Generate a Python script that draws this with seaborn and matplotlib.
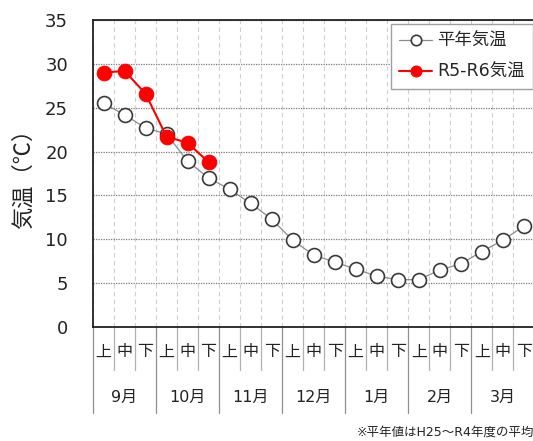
import numpy as np
import pandas as pd
import matplotlib
matplotlib.use('Agg')
import matplotlib.pyplot as plt
import matplotlib.transforms as mtransforms
import seaborn as sns

# chart values
months = ['9月', '10月', '11月', '12月', '1月', '2月', '3月']
periods = ['上', '中', '下']
normal_temp = [25.5, 24.2, 22.7, 22.0, 18.9, 17.0, 15.7, 14.1, 12.3, 9.9, 8.2,
               7.4, 6.6, 5.8, 5.4, 5.4, 6.5, 7.2, 8.6, 9.9, 11.5]
recent_temp = [29.0, 29.2, 26.6, 21.7, 21.0, 18.8]
y_ticks = [0, 5, 10, 15, 20, 25, 30, 35]

sns.set_theme(style='white')
plt.rcParams['font.family'] = ['DejaVu Sans', 'Noto Sans CJK JP']

n = len(months) * len(periods)
df_normal = pd.DataFrame({'pos': np.arange(n), 'temp': normal_temp})
df_recent = pd.DataFrame({'pos': np.arange(len(recent_temp)), 'temp': recent_temp})

fig = plt.figure(figsize=(5.33, 4.41), dpi=100)
ax = fig.add_axes([0.1745, 0.2585, 0.828, 0.6961])

# grid
ax.set_xticks(np.arange(-0.5, n, 1), minor=True)
ax.grid(which='minor', axis='x', color='#cfcfcf', linestyle=(0, (4, 3)), linewidth=0.8)
ax.set_yticks(y_ticks)
ax.grid(which='major', axis='y', color='#7a7a7a', linestyle=(0, (1, 1)), linewidth=0.9)
ax.set_axisbelow(True)

sns.lineplot(data=df_normal, x='pos', y='temp', ax=ax, color='#8c8c8c', linewidth=0.9,
             marker='o', markersize=10, markerfacecolor='white', markeredgecolor='#3a3a3a',
             markeredgewidth=1.2, label='平年気温', zorder=3)
sns.lineplot(data=df_recent, x='pos', y='temp', ax=ax, color='#ff0000', linewidth=1.5,
             marker='o', markersize=10.5, markerfacecolor='#ff0000', markeredgecolor='#ff0000',
             label='R5-R6気温', zorder=4)

ax.set_xlim(-0.5, n - 0.5)
ax.set_ylim(0, 35)
ax.set_xticks([])
ax.set_xlabel('')
ax.set_ylabel('気温（℃）', fontsize=16, labelpad=7, color='#222222',
              family=['Noto Sans CJK JP', 'DejaVu Sans'])
ax.tick_params(axis='y', length=0, pad=18, labelsize=13, labelcolor='#222222')

for s in ['left', 'bottom', 'top']:
    ax.spines[s].set_color('#222222')
    ax.spines[s].set_linewidth(1.3)
ax.spines['right'].set_visible(False)

# two-level category axis
trans = mtransforms.blended_transform_factory(ax.transData, ax.transAxes)
px = 1 / 307.0
for i in range(n):
    ax.text(i, -25 * px, periods[i % 3], transform=trans, ha='center', va='center',
            fontsize=11.5, color='#222222')
    if i % 3 != 0:
        ax.plot([i - 0.5, i - 0.5], [0, -43 * px], transform=trans, color='#b0b0b0',
                linewidth=0.9, clip_on=False)
for m, name in enumerate(months):
    ax.text(m * 3 + 1, -70 * px, name, transform=trans, ha='center', va='center',
            fontsize=11.5, color='#222222')
    ax.plot([m * 3 - 0.5, m * 3 - 0.5], [0, -86 * px], transform=trans, color='#909090',
            linewidth=0.9, clip_on=False)

leg = ax.legend(loc='upper left', bbox_to_anchor=(0.676, 0.987), borderaxespad=0,
                fontsize=12.5, frameon=True, fancybox=False, edgecolor='#a0a0a0',
                framealpha=1, handlelength=1.9, borderpad=0.45, labelspacing=0.75,
                handletextpad=0.3, markerscale=0.75)
leg.get_frame().set_linewidth(1.0)

fig.text(357 / 533, 1 - 432 / 441, '※平年値はH25～R4年度の平均', fontsize=9,
         ha='left', va='center', color='#222222')

fig.savefig('out.png', dpi=100)
